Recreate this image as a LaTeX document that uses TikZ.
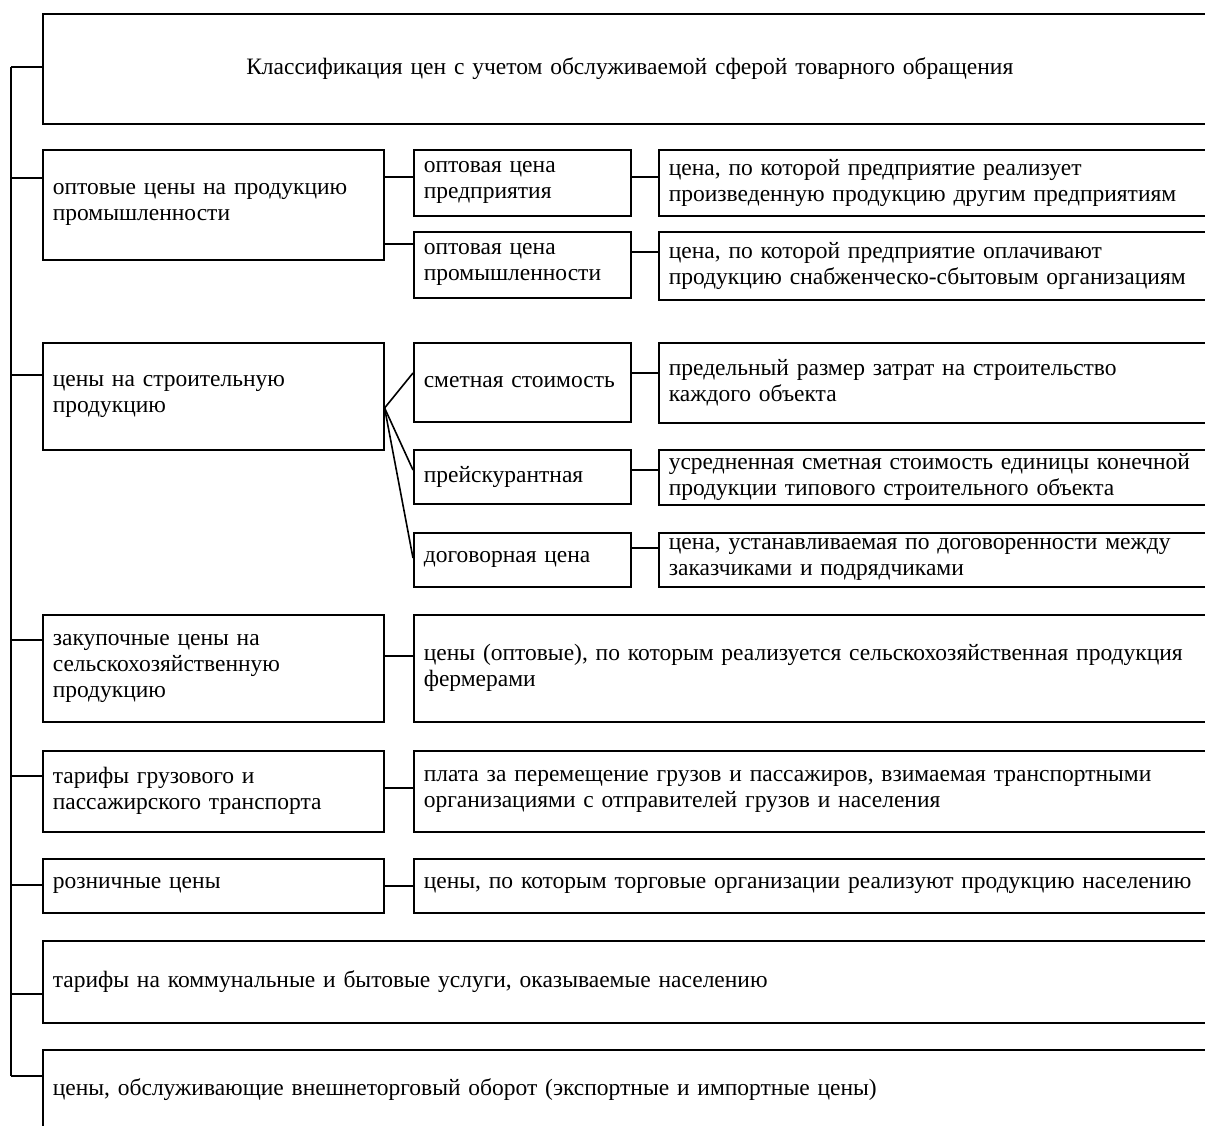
\documentclass[tikz,border=0pt]{standalone}
\usepackage{fontspec}
\setmainfont{Liberation Serif}
\usetikzlibrary{positioning}

\tikzset{
	blok/.style={draw, line width=1.6pt, anchor=north west, inner xsep=10pt, inner ysep=0pt, align=left, font=\fontsize{23.5}{26}\selectfont},
	lin/.style={line width=1.6pt}
}
% ветка от ствола к блоку
\newcommand{\vetka}[2]{
	\draw[lin] (stvolA |- 0,#2) -- (#1.west |- 0,#2);
}
% горизонтальная связь двух блоков
\newcommand{\svyaz}[3]{
	\draw[lin] (#1.east |- 0,#3) -- (#2.west |- 0,#3);
}

\begin{document}
\begin{tikzpicture}[x=1pt,y=-1pt]
	\useasboundingbox (0,0) rectangle (1205,1126);
	\clip (0,0) rectangle (1205,1126);
	% заголовок
	\node[blok, align=center, text width=1154, minimum height=110] (title) at (42,13) {Классификация цен с учетом обслуживаемой сферой товарного обращения};
	% оптовые цены
	\node[blok, text width=321, minimum height=110] (opt) at (42,149) {оптовые цены на продукцию\\промышленности};
	\node[blok, text width=197, minimum height=66] (optpr) at (413,149) {оптовая цена\\предприятия};
	\node[blok, text width=580, minimum height=66] (optprd) at (658,149) {цена, по которой предприятие реализует\\произведенную продукцию другим предприятиям};
	\node[blok, text width=197, minimum height=66] (optprom) at (413,231) {оптовая цена\\промышленности};
	\node[blok, text width=580, minimum height=68] (optpromd) at (658,231) {цена, по которой предприятие оплачивают\\продукцию снабженческо-сбытовым организациям};
	% строительство
	\node[blok, text width=321, minimum height=107] (str) at (42,342) {цены на строительную\\продукцию};
	\node[blok, text width=197, minimum height=79] (smet) at (413,342) {сметная стоимость};
	\node[blok, text width=580, minimum height=80] (smetd) at (658,342) {предельный размер затрат на строительство\\каждого объекта};
	\node[blok, text width=197, minimum height=54] (preisk) at (413,449) {прейскурантная};
	\node[blok, text width=580, minimum height=55] (preiskd) at (658,449) {усредненная сметная стоимость единицы конечной\\продукции типового строительного объекта};
	\node[blok, text width=197, minimum height=54] (dog) at (413,532) {договорная цена};
	\node[blok, text width=580, minimum height=54] (dogd) at (658,532) {цена, устанавливаемая по договоренности между\\заказчиками и подрядчиками};
	% остальные виды
	\node[blok, text width=321, minimum height=107] (zak) at (42,614) {закупочные цены на\\сельскохозяйственную\\продукцию};
	\node[blok, text width=800, minimum height=107] (zakd) at (413,614) {цены (оптовые), по которым реализуется сельскохозяйственная продукция\\фермерами};
	\node[blok, text width=321, minimum height=81] (tar) at (42,750) {тарифы грузового и\\пассажирского транспорта};
	\node[blok, text width=800, minimum height=81] (tard) at (413,750) {плата за перемещение грузов и пассажиров, взимаемая транспортными\\организациями с отправителей грузов и населения};
	\node[blok, text width=321, minimum height=54] (roz) at (42,858) {розничные цены};
	\node[blok, text width=800, minimum height=54] (rozd) at (413,858) {цены, по которым торговые организации реализуют продукцию населению};
	\node[blok, text width=1180, minimum height=82] (kom) at (42,940) {тарифы на коммунальные и бытовые услуги, оказываемые населению};
	\node[blok, text width=1180, text height=46pt, text depth=80pt] (vnesh) at (42,1049) {цены, обслуживающие внешнеторговый оборот (экспортные и импортные цены)};

	% ствол слева
	\coordinate (stvolA) at (11,67);
	\coordinate (stvolB) at (11,1076);
	\draw[lin] (stvolA) -- (stvolB);
	\vetka{title}{67}
	\vetka{opt}{178}
	\vetka{str}{375}
	\vetka{zak}{640}
	\vetka{tar}{776}
	\vetka{roz}{885}
	\vetka{kom}{994}
	\vetka{vnesh}{1076}

	\svyaz{opt}{optpr}{177}
	\svyaz{opt}{optprom}{244}
	\svyaz{optpr}{optprd}{177}
	\svyaz{optprom}{optpromd}{252}

	\coordinate (uzel) at (str.east |- 0,408);
	\draw[lin] (uzel) -- (smet.west |- 0,373);
	\draw[lin] (uzel) -- (preisk.west |- 0,470);
	\draw[lin] (uzel) -- (dog.west |- 0,558);
	\svyaz{smet}{smetd}{373}
	\svyaz{preisk}{preiskd}{470}
	\svyaz{dog}{dogd}{548}

	\svyaz{zak}{zakd}{656}
	\svyaz{tar}{tard}{788}
	\svyaz{roz}{rozd}{886}
\end{tikzpicture}
\end{document}
